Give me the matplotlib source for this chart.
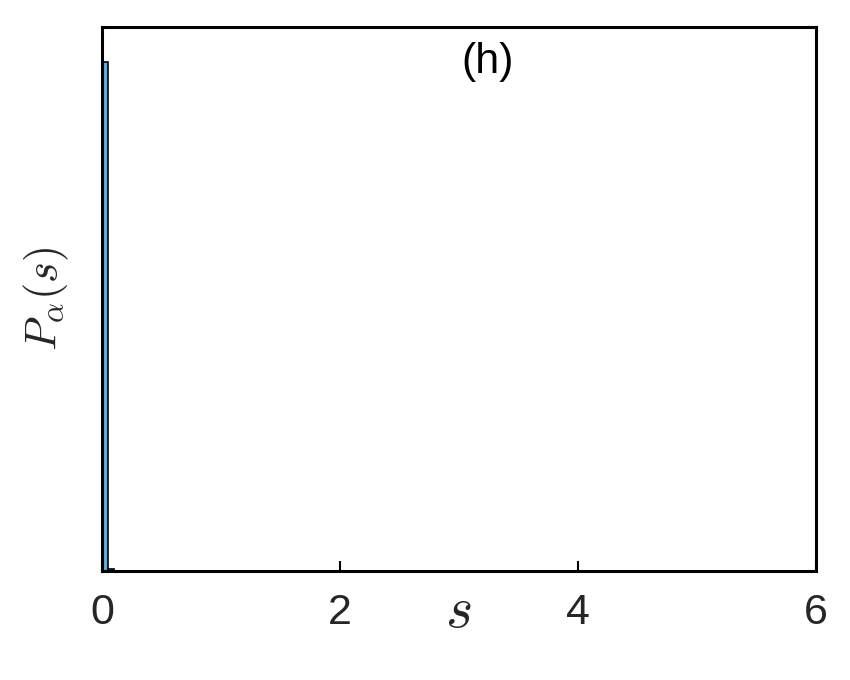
import matplotlib.pyplot as plt

plt.rcParams["font.family"] = ["Liberation Sans", "DejaVu Sans"]
plt.rcParams["mathtext.fontset"] = "cm"

# histogram of s (relative frequency per bin)
bin_edges = [0.0, 0.05, 0.1]
bin_heights = [1.0, 0.004]


def main():
    fig = plt.figure(figsize=(8.5, 6.8), dpi=100)
    ax = fig.add_axes([0.12, 0.1603, 0.84, 0.8])

    widths = [bin_edges[i + 1] - bin_edges[i] for i in range(len(bin_heights))]
    ax.bar(bin_edges[:-1], bin_heights, width=widths, align="edge",
           color="#5eaade", edgecolor="black", linewidth=1.2)

    ax.set_xlim(0, 6)
    ax.set_ylim(0, 1.0687)
    ax.set_xticks([0, 2, 4, 6])
    ax.set_yticks([])
    ax.tick_params(axis="x", direction="in", length=7, width=1.5,
                   labelsize=31, colors="black", pad=16)
    for lbl in ax.get_xticklabels():
        lbl.set_color("#262626")
    for sp in ax.spines.values():
        sp.set_linewidth(2.2)
        sp.set_color("black")

    ax.set_xlabel(r"$s$", fontsize=42, color="#262626", va="center")
    ax.xaxis.set_label_coords(0.4986, -0.075)
    ax.set_ylabel(r"$P_\alpha(s)$", fontsize=32, color="#262626", va="center")
    ax.yaxis.set_label_coords(-0.078, 0.5)
    ax.text(0.54, 0.936, "(h)", transform=ax.transAxes, fontsize=31,
            ha="center", va="center", color="black")

    fig.savefig("out.png", dpi=100)


if __name__ == "__main__":
    main()
